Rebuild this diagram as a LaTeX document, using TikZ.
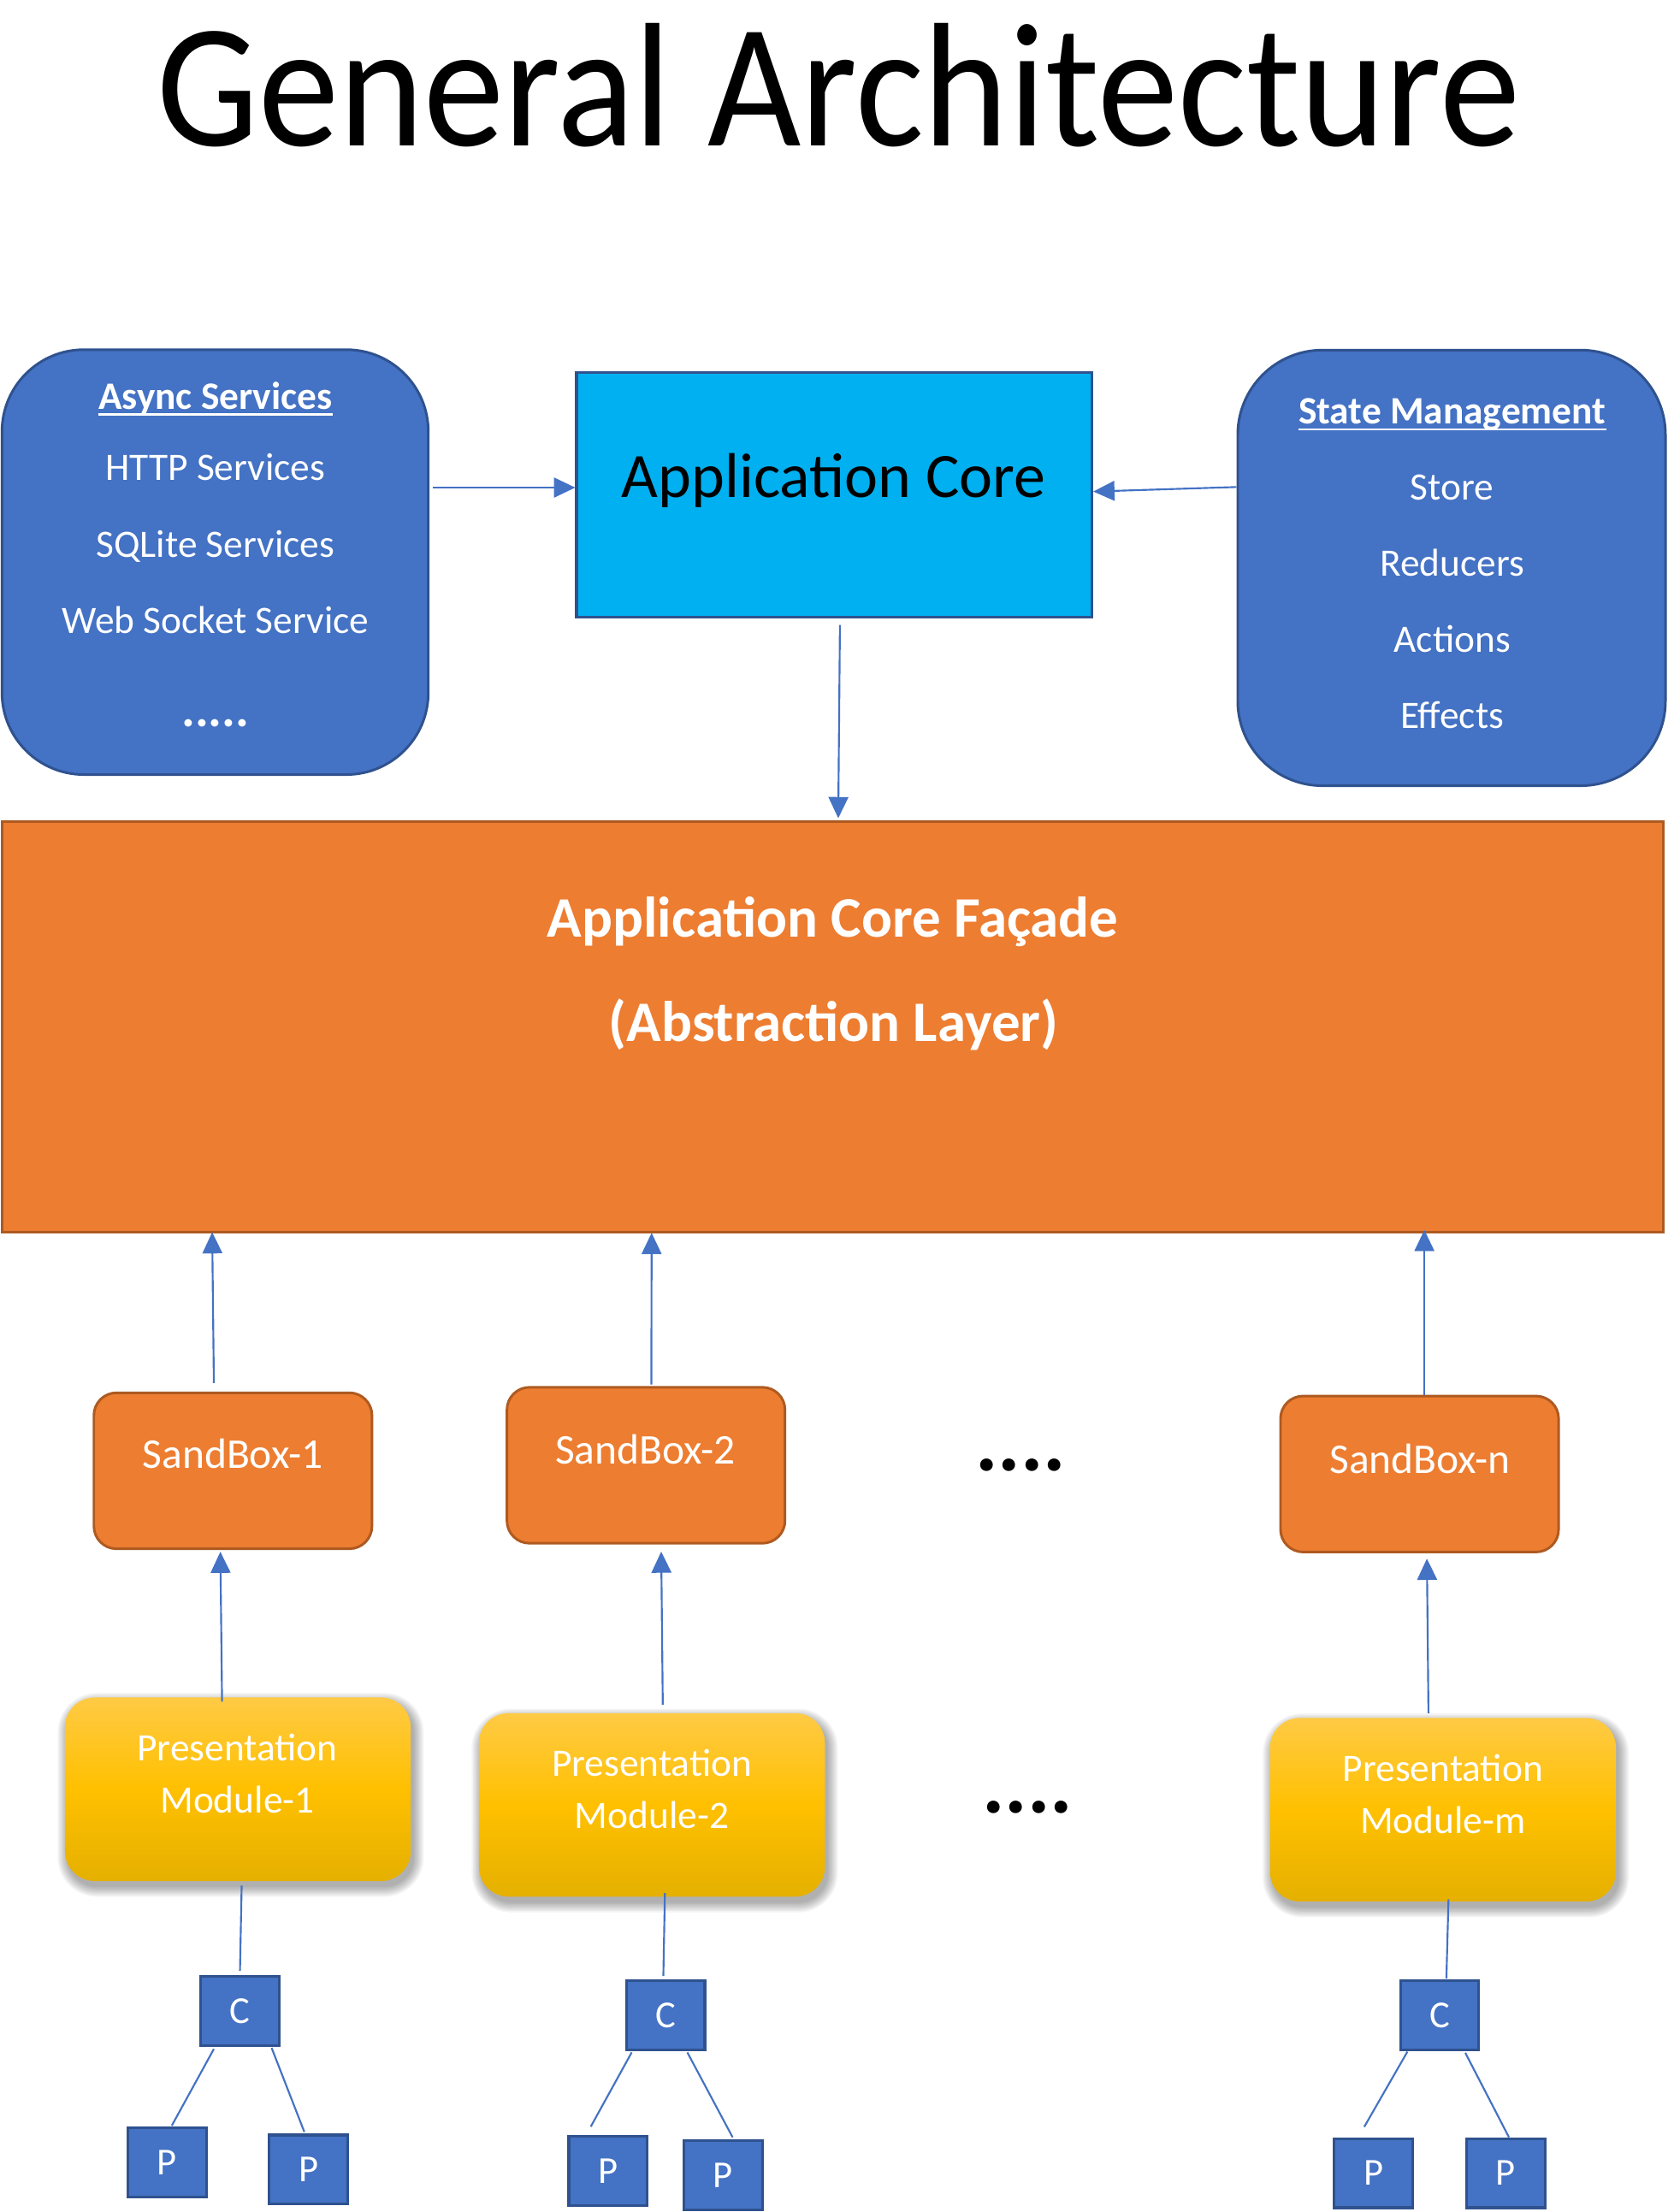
\documentclass[tikz,border=0pt]{standalone}
\usepackage{fontspec}
\usepackage{graphicx}
\setmainfont{Carlito}
\usetikzlibrary{arrows.meta,calc,backgrounds}
\definecolor{myblue}{HTML}{4472C4}
\definecolor{bborder}{HTML}{2F528F}
\definecolor{mycyan}{HTML}{00B0F0}
\definecolor{myorange}{HTML}{ED7D31}
\definecolor{oborder}{HTML}{AE5A21}
\definecolor{ytop}{HTML}{FFCA45}
\definecolor{ymid}{HTML}{FFC000}
\definecolor{ybot}{HTML}{E5B000}
\begin{document}
\begin{tikzpicture}[x=1pt,y=-1pt,
  bluebox/.style={fill=myblue, draw=bborder, line width=1.8pt, rounded corners=58pt, inner sep=0pt},
  orangebox/.style={fill=myorange, draw=oborder, line width=1.8pt, inner sep=0pt},
  sandbox/.style={orangebox, rounded corners=16pt, minimum width=197pt, minimum height=110.5pt},
  pres/.style={rounded corners=21pt, top color=ytop, bottom color=ybot, middle color=ymid, minimum width=245pt, minimum height=130pt, inner sep=0pt},
  sq/.style={fill=myblue, draw=bborder, line width=2pt, minimum width=55.5pt, minimum height=49pt, inner sep=0pt, text=white, font=\fontsize{27}{30}\selectfont},
  wt/.style={text=white, inner sep=0pt, anchor=base, font=\fontsize{27.5}{33}\selectfont},
  sbt/.style={text=white, inner sep=0pt, anchor=base, font=\fontsize{30}{36}\selectfont},
  dots/.style={inner sep=0pt, anchor=base, font=\fontsize{60}{70}\selectfont\bfseries},
  arr/.style={draw=myblue, line width=1.3pt, -{Triangle[length=15pt,width=14pt]}},
  conn/.style={draw=myblue, line width=1.3pt}
]
\useasboundingbox (0,0) rectangle (1190,1567);

% title
\node[inner sep=0pt, anchor=base, font=\fontsize{125}{140}\selectfont] (title) at (593.8,103.4) {\scalebox{0.915}[1]{General Architecture}};

% top row
\node[bluebox, minimum width=302pt, minimum height=301pt] (async) at (152.4,398.2) {};
\node[wt, font=\fontsize{27.5}{33}\selectfont\bfseries] (asynct) at (152.6,289.8) {Async Services};
\draw[white, line width=1.6pt] ($(asynct.base west)+(0,3.6)$) -- ($(asynct.base east)+(0,3.6)$);
\node[wt] (http) at (152.6,340.5) {HTTP Services};
\node[wt] (sqlite) at (152.6,394.7) {SQLite Services};
\node[wt] (websock) at (152.6,448.8) {Web Socket Service};
\node[wt, font=\fontsize{36}{40}\selectfont\bfseries] (adots) at (152.6,514.8) {.....};

\node[fill=mycyan, draw=bborder, line width=2pt, minimum width=365pt, minimum height=173.5pt, inner sep=0pt] (appcore) at (591,350.5) {};
\node[inner sep=0pt, anchor=base, font=\fontsize{44.8}{50}\selectfont] (appcoret) at (590.5,352.5) {Application Core};

\node[bluebox, minimum width=303pt, minimum height=308.6pt, rounded corners=60pt] (state) at (1028.3,402.3) {};
\node[wt, font=\fontsize{27.5}{33}\selectfont\bfseries] (statet) at (1028.7,300.5) {State Management};
\draw[white, line width=1.6pt] ($(statet.base west)+(0,3.7)$) -- ($(statet.base east)+(0,3.7)$);
\node[wt] (store) at (1028.7,354) {Store};
\node[wt] (reducers) at (1028.7,408.1) {Reducers};
\node[wt] (actions) at (1028.7,462.3) {Actions};
\node[wt] (effects) at (1028.7,516.2) {Effects};

% facade
\node[orangebox, minimum width=1176.5pt, minimum height=291pt] (facade) at (589.8,727.5) {};
\node[wt, font=\fontsize{40.6}{46}\selectfont\bfseries] (facade1) at (590,664) {Application Core Façade};
\node[wt, font=\fontsize{40.6}{46}\selectfont\bfseries] (facade2) at (590.6,737.8) {(Abstraction Layer)};

% sandboxes
\node[sandbox] (sb1) at (165,1041.9) {};
\node[sbt] (sb1t) at (164.8,1040) {SandBox-1};
\node[sandbox] (sb2) at (457.6,1038) {};
\node[sbt] (sb2t) at (457.2,1037.3) {SandBox-2};
\node[sandbox] (sbn) at (1005.6,1044.2) {};
\node[sbt] (sbnt) at (1006,1043.7) {SandBox-n};
\node[dots] (dots1) at (723,1042) {....};

% presentation modules
\node[pres] (pm1) at (168.5,1267.5) {};
\node[wt] (pm1a) at (168.1,1247.6) {Presentation};
\node[wt] (pm1b) at (168.1,1284.2) {Module-1};
\node[pres] (pm2) at (461.8,1278.6) {};
\node[wt] (pm2a) at (461.8,1258.3) {Presentation};
\node[wt] (pm2b) at (461.8,1295.3) {Module-2};
\node[pres] (pmm) at (1022.2,1282) {};
\node[wt] (pmma) at (1022.2,1262.1) {Presentation};
\node[wt] (pmmb) at (1022.2,1299.1) {Module-m};
\node[dots] (dots2) at (728,1284.2) {....};

% white page and shadows of presentation modules, behind everything
\begin{scope}[on background layer]
\fill[white] (0,0) rectangle (1190,1567);
\foreach \m in {pm1,pm2,pmm}{
  \foreach \k in {0,...,7}{
    \pgfmathsetmacro{\rr}{21+\k}
    \fill[black, opacity=0.045, rounded corners=\rr pt]
      ($(\m.south west)+(2-\k,4+\k)$) rectangle ($(\m.north east)+(2+\k,4-\k)$);
  }
}
\end{scope}

% C and P boxes
\node[sq] (c1) at (170,1424.5) {C};
\node[sq] (c2) at (471.5,1427.5) {C};
\node[sq] (c3) at (1019.8,1427.5) {C};
\node[sq] (p1a) at (118.4,1532) {P};
\node[sq] (p1b) at (218.5,1536.9) {P};
\node[sq] (p2a) at (430.7,1538) {P};
\node[sq] (p2b) at (512.3,1541) {P};
\node[sq] (p3a) at (972.9,1539.5) {P};
\node[sq] (p3b) at (1066.7,1539.5) {P};

% connectors
\draw[arr] ($(async.east |- appcore.west)+(2.2,-5.1)$) -- ($(appcore.west)+(0,-5.1)$);
\draw[arr] ($(state.west |- appcore.east)+(0,-5.5)$) -- ($(appcore.east)+(0,-2.3)$);
\draw[arr] ($(appcore.south)+(4,4.5)$) -- ($(appcore.south |- facade.north)+(2.8,-1.5)$);

\draw[arr] ($(sb1.north)+(-13.5,-6)$) -- ($(sb1.north |- facade.south)+(-14.7,-1)$);
\draw[arr] ($(sb2.north)+(3.8,-1)$) -- ($(sb2.north |- facade.south)+(4,-0.5)$);
\draw[arr] ($(sbn.north)+(3.4,0)$) -- ($(sbn.north |- facade.south)+(3.4,-2.6)$);

\draw[arr] ($(pm1.north)+(-11.2,3.1)$) -- ($(sb1.south)+(-8.9,1.2)$);
\draw[arr] ($(pm2.north)+(7.7,-5.8)$) -- ($(sb2.south)+(10.8,5)$);
\draw[arr] ($(pmm.north)+(-10.3,-3.1)$) -- ($(sbn.south)+(5.2,3.8)$);

\draw[conn] ($(pm1.south)+(2.7,3.1)$) -- ($(c1.north)+(0,-3)$);
\draw[conn] ($(pm2.south)+(9.2,-2.7)$) -- ($(c2.north)+(-1.6,-2.2)$);
\draw[conn] ($(pmm.south)+(3.9,-1.7)$) -- ($(c3.north)+(4.8,-0.4)$);

\draw[conn] ($(c1.south)+(-18.5,1.5)$) -- ($(p1a.north)+(3.3,-0.7)$);
\draw[conn] ($(c1.south)+(22.4,0.7)$) -- ($(p1b.north)+(-2.9,-1.1)$);
\draw[conn] ($(c2.south)+(-24,0.9)$) -- ($(p2a.north)+(-12.2,-6)$);
\draw[conn] ($(c2.south)+(15.4,0.9)$) -- ($(p2b.north)+(6.7,-1.4)$);
\draw[conn] ($(c3.south)+(-22.8,0.4)$) -- ($(p3a.north)+(-6.5,-7.3)$);
\draw[conn] ($(c3.south)+(18.2,1.2)$) -- ($(p3b.north)+(2.2,0)$);
\end{tikzpicture}
\end{document}
